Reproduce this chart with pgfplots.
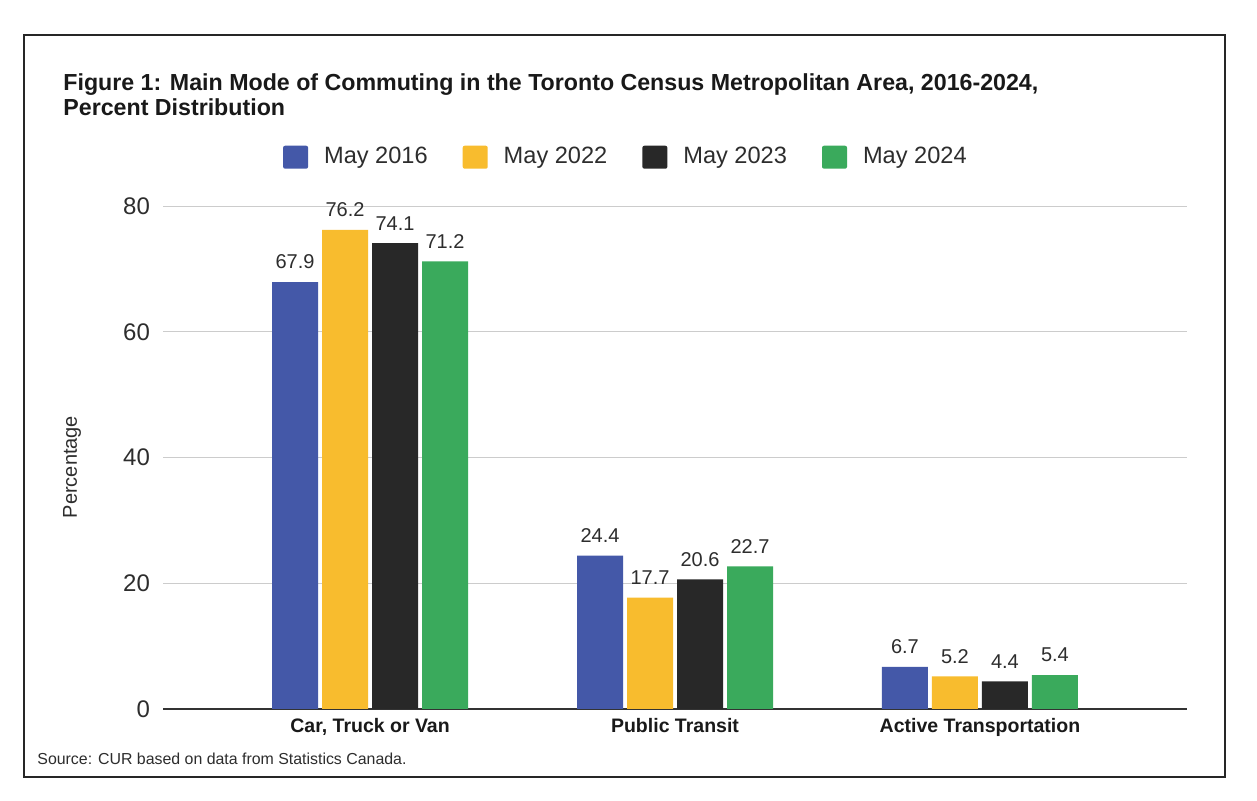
\documentclass[border=0pt]{standalone}
\usepackage{pgfplots}
\pgfplotsset{compat=1.18}
\usepackage{fontspec}
\setmainfont{Liberation Sans}

\definecolor{cblue}{RGB}{68,88,168}
\definecolor{cyellow}{RGB}{248,188,46}
\definecolor{cblack}{RGB}{40,40,40}
\definecolor{cgreen}{RGB}{58,170,92}
\definecolor{txt}{RGB}{45,45,45}

\pgfplotsset{ybar legend/.style={/pgfplots/legend image code/.code={\fill[##1, draw=none, rounded corners=1pt] (0pt,-5.75pt) rectangle (12.5pt,5.75pt);}}}

\begin{document}
\begin{tikzpicture}[x=0.5pt,y=0.5pt]
\path[use as bounding box, fill=white] (0,0) rectangle (1257,801);
\draw[line width=1pt, color=black!85] (24,766) rectangle (1225,24);
\coordinate (o) at (163,92);

\node[anchor=base west, inner sep=0pt, font=\fontsize{11.6}{13}\selectfont\bfseries, text=black!90] at (63,710)
  {Figure 1: Main Mode of Commuting in the Toronto Census Metropolitan Area, 2016-2024,};
\node[anchor=base west, inner sep=0pt, font=\fontsize{11.6}{13}\selectfont\bfseries, text=black!90] at (63,685)
  {Percent Distribution};
\node[anchor=base west, inner sep=0pt, font=\fontsize{7.95}{9}\selectfont, text=txt] at (37,36)
  {Source: CUR based on data from Statistics Canada.};

\begin{axis}[
    at={(o)}, anchor=south west,
    scale only axis, width=512pt, height=251.5pt,
    ybar=2pt, bar width=23pt,
    xmin=-0.679, xmax=2.679, ymin=0, ymax=80,
    xtick={0,1,2},
    xticklabels={{Car, Truck or Van},{Public Transit},{Active Transportation}},
    ytick={20,40,60,80},
    extra y ticks={0},
    extra y tick style={major grid style={color=black!80, line width=1pt}},
    ymajorgrids, major grid style={color=black!20, line width=0.5pt},
    major tick length=0pt,
    axis line style={draw=none},
    clip=false,
    xticklabel style={font=\fontsize{9.75}{11}\selectfont\bfseries, text=black!90, yshift=-1pt},
    yticklabel style={font=\fontsize{12}{14}\selectfont, text=txt, xshift=-3pt},
    /pgf/number format/assume math mode=true,
    ylabel=Percentage,
    ylabel style={at={(axis description cs:-0.0889,0.481)}, anchor=center, rotate=0,
                  font=\fontsize{10}{12}\selectfont, text=txt},
    nodes near coords,
    nodes near coords style={font=\fontsize{10}{12}\selectfont, text=txt, yshift=3pt,
        /pgf/number format/.cd, fixed, fixed zerofill, precision=1, assume math mode=true},
    legend columns=-1,
    legend style={at={(0.453,1.097)}, anchor=center, draw=none, fill=none,
        font=\fontsize{11.8}{13}\selectfont, text=txt,
        /tikz/every odd column/.append style={column sep=6pt},
        /tikz/every even column/.append style={column sep=15.5pt}},
]
\addplot[fill=cblue, draw=none] coordinates {(0,67.9) (1,24.4) (2,6.7)};
\addlegendentry{May 2016}
\addplot[fill=cyellow, draw=none] coordinates {(0,76.2) (1,17.7) (2,5.2)};
\addlegendentry{May 2022}
\addplot[fill=cblack, draw=none] coordinates {(0,74.1) (1,20.6) (2,4.4)};
\addlegendentry{May 2023}
\addplot[fill=cgreen, draw=none] coordinates {(0,71.2) (1,22.7) (2,5.4)};
\addlegendentry{May 2024}
\end{axis}
\end{tikzpicture}
\end{document}
